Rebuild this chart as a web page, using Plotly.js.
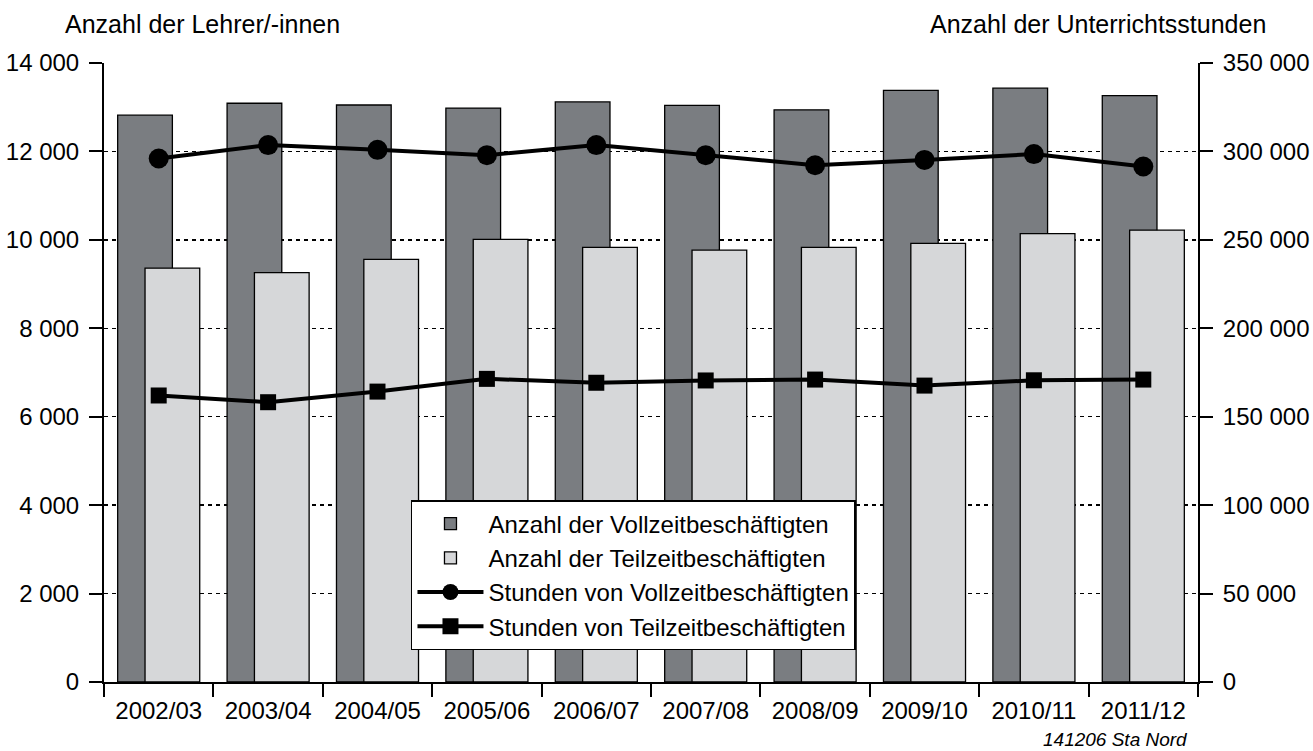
<!DOCTYPE html>
<html>
<head>
<meta charset="utf-8">
<script src="https://cdn.plot.ly/plotly-3.0.1.min.js"></script>
<style>
  html, body { margin: 0; padding: 0; background: #ffffff; }
  #chart { width: 1313px; height: 751px; }
</style>
</head>
<body>
<div id="chart"></div>
<script>
// Schuljahre
const categories = ["2002/03", "2003/04", "2004/05", "2005/06", "2006/07", "2007/08", "2008/09", "2009/10", "2010/11", "2011/12"];
// Anzahl der Lehrer/-innen
const vollzeitAnzahl = [12820, 13090, 13050, 12980, 13120, 13040, 12940, 13380, 13430, 13260];
const teilzeitAnzahl = [9360, 9260, 9560, 10010, 9830, 9770, 9830, 9920, 10140, 10220];
// Anzahl der Unterrichtsstunden
const vollzeitStunden = [296000, 303600, 300900, 297900, 303600, 297900, 292200, 295200, 298500, 291500];
const teilzeitStunden = [162000, 158200, 164200, 171400, 169200, 170500, 171000, 167600, 170600, 171000];

const names = [
  "Anzahl der Vollzeitbeschäftigten",
  "Anzahl der Teilzeitbeschäftigten",
  "Stunden von Vollzeitbeschäftigten",
  "Stunden von Teilzeitbeschäftigten"
];

const FONT = "Liberation Sans, Arial, sans-serif";

const traces = [
  {
    type: "bar", name: names[0], x: categories, y: vollzeitAnzahl,
    width: 0.5, offset: -0.375,
    marker: { color: "#7a7d81", line: { color: "#000000", width: 1.3 } },
    hoverinfo: "skip"
  },
  {
    type: "bar", name: names[1], x: categories, y: teilzeitAnzahl,
    width: 0.5, offset: -0.125,
    marker: { color: "#d6d7d9", line: { color: "#000000", width: 1.3 } },
    hoverinfo: "skip"
  },
  {
    type: "scatter", mode: "lines+markers", name: names[2], x: categories, y: vollzeitStunden,
    yaxis: "y2",
    line: { color: "#000000", width: 4 },
    marker: { symbol: "circle", size: 20, color: "#000000" },
    hoverinfo: "skip"
  },
  {
    type: "scatter", mode: "lines+markers", name: names[3], x: categories, y: teilzeitStunden,
    yaxis: "y2",
    line: { color: "#000000", width: 4 },
    marker: { symbol: "square", size: 16, color: "#000000" },
    hoverinfo: "skip"
  }
];

const layout = {
  width: 1313, height: 751,
  margin: { l: 104, r: 115, t: 63, b: 69, pad: 0 },
  paper_bgcolor: "#ffffff", plot_bgcolor: "#ffffff",
  font: { family: FONT, size: 24, color: "#000000" },
  separators: ", ",
  barmode: "overlay",
  showlegend: true,
  legend: {
    x: 0.2806, xanchor: "left", y: 0.294, yanchor: "top",
    bgcolor: "#ffffff", bordercolor: "#000000", borderwidth: 1.5,
    font: { family: FONT, size: 24, color: "#000000" },
    itemwidth: 66, traceorder: "normal",
    tracegroupgap: 0
  },
  xaxis: {
    type: "category",
    tickson: "boundaries",
    ticks: "outside", ticklen: 13, tickwidth: 2, tickcolor: "#000000",
    ticklabelstandoff: 6,
    showline: true, linecolor: "#000000", linewidth: 2,
    showgrid: false, zeroline: false,
    tickfont: { family: FONT, size: 24, color: "#000000" },
    range: [-0.5, 9.5]
  },
  yaxis: {
    range: [0, 14000], dtick: 2000, tick0: 0,
    tickformat: ",d", separatethousands: true,
    ticks: "outside", ticklen: 13, tickwidth: 2, tickcolor: "#000000",
    ticklabelstandoff: 5,
    showline: true, linecolor: "#000000", linewidth: 2,
    showgrid: true, gridcolor: "#000000", gridwidth: 1.5, griddash: "4px,4px",
    zeroline: false,
    tickfont: { family: FONT, size: 24, color: "#000000" }
  },
  yaxis2: {
    overlaying: "y", side: "right",
    range: [0, 350000], dtick: 50000, tick0: 0,
    tickformat: ",d", separatethousands: true,
    ticks: "outside", ticklen: 13, tickwidth: 2, tickcolor: "#000000",
    ticklabelstandoff: 5,
    showline: true, linecolor: "#000000", linewidth: 2,
    showgrid: false, zeroline: false,
    tickfont: { family: FONT, size: 24, color: "#000000" }
  },
  annotations: [
    {
      text: "Anzahl der Lehrer/-innen", xref: "paper", yref: "paper",
      x: 0.09, y: 1.063, xanchor: "center", yanchor: "middle", showarrow: false,
      font: { family: FONT, size: 25, color: "#000000" }
    },
    {
      text: "Anzahl der Unterrichtsstunden", xref: "paper", yref: "paper",
      x: 0.9086, y: 1.063, xanchor: "center", yanchor: "middle", showarrow: false,
      font: { family: FONT, size: 25, color: "#000000" }
    },
    {
      text: "<i>141206 Sta Nord</i>", xref: "paper", yref: "paper",
      x: 0.9927, y: -0.0935, xanchor: "right", yanchor: "middle", showarrow: false,
      font: { family: FONT, size: 19, color: "#000000" }
    }
  ]
};

Plotly.newPlot("chart", traces, layout, { staticPlot: true, displayModeBar: false });
</script>
</body>
</html>
